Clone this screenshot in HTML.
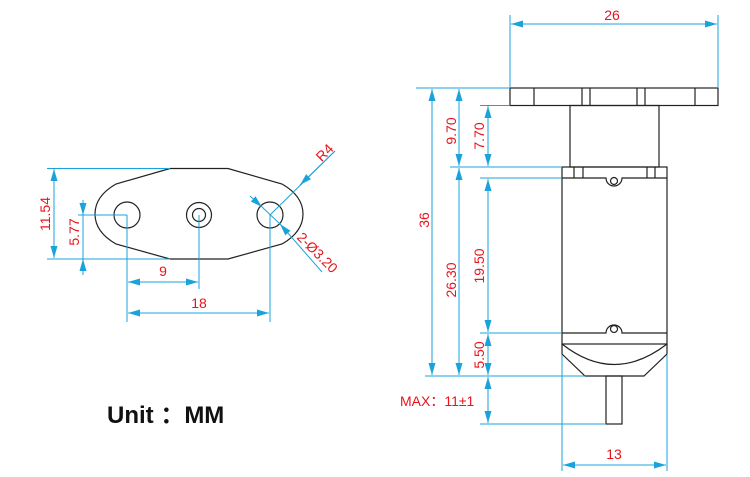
<!DOCTYPE html>
<html><head><meta charset="utf-8"><style>
html,body{margin:0;padding:0;background:#fff;}
svg{display:block;}
text{font-family:"Liberation Sans","Noto Sans CJK SC",sans-serif;fill:#e8141c;font-size:14px;}
.d{stroke:#1aa3db;stroke-width:1;fill:none;}
.k{stroke:#222;stroke-width:1.2;fill:none;}
</style></head><body>
<svg width="750" height="477" viewBox="0 0 750 477" xmlns="http://www.w3.org/2000/svg">
<defs>
<marker id="a" viewBox="0 0 12 7" refX="12" refY="3.5" markerWidth="12" markerHeight="7" markerUnits="userSpaceOnUse" orient="auto-start-reverse"><path d="M0,0L12,3.5L0,7z" fill="#1aa3db"/></marker>
</defs>
<path class="k" stroke-width="2" d="M170,168.5 L228,168.5 L282,184 Q303,196 303,214 Q303,232 282,244 L228,259 L170,259 L116,244 Q95,232 95,214 Q95,196 116,184 Z"/>
<circle class="k" cx="127" cy="215" r="13"/>
<circle class="k" cx="199" cy="215" r="12.5" stroke-width="2"/>
<circle class="k" cx="199" cy="215" r="6.5" stroke-width="2"/>
<circle class="k" cx="270" cy="215" r="13"/>
<line class="d" x1="47" y1="168.5" x2="170" y2="168.5"/>
<line class="d" x1="47" y1="259" x2="170" y2="259"/>
<line class="d" x1="54" y1="169" x2="54" y2="258" marker-start="url(#a)" marker-end="url(#a)"/>
<text transform="translate(50,214) rotate(-90)" text-anchor="middle">11.54</text>
<line class="d" x1="78" y1="215" x2="127" y2="215"/>
<line class="d" x1="83" y1="200" x2="83" y2="215" marker-end="url(#a)"/>
<line class="d" x1="83" y1="275" x2="83" y2="259" marker-end="url(#a)"/>
<line class="d" x1="83" y1="215" x2="83" y2="259"/>
<text transform="translate(79,232) rotate(-90)" text-anchor="middle">5.77</text>
<line class="d" x1="127" y1="215" x2="127" y2="322"/>
<line class="d" x1="199" y1="215" x2="199" y2="289"/>
<line class="d" x1="270" y1="215" x2="270" y2="322"/>
<line class="d" x1="128" y1="282" x2="198" y2="282" marker-start="url(#a)" marker-end="url(#a)"/>
<text x="163" y="276" text-anchor="middle">9</text>
<line class="d" x1="128" y1="313" x2="269" y2="313" marker-start="url(#a)" marker-end="url(#a)"/>
<text x="199" y="308" text-anchor="middle">18</text>
<line class="d" x1="335" y1="151" x2="270" y2="215"/>
<line class="d" x1="335" y1="151" x2="300" y2="185" marker-end="url(#a)"/>
<text transform="translate(328,156) rotate(-45)" text-anchor="middle">R4</text>
<line class="d" x1="250" y1="196" x2="262" y2="207" marker-end="url(#a)"/>
<line class="d" x1="322" y1="272" x2="280" y2="224" marker-end="url(#a)"/>
<line class="d" x1="262" y1="207" x2="280" y2="224"/>
<text transform="translate(314,256) rotate(45)" text-anchor="middle">2-Ø3.20</text>
<text x="107" y="423" style="fill:#111;font-size:24px;font-weight:bold;">Unit ：MM</text>

<rect class="k" x="510" y="88" width="208" height="17.5"/>
<g class="k"><line x1="534" y1="88" x2="534" y2="105.5"/><line x1="582" y1="88" x2="582" y2="105.5"/><line x1="590" y1="88" x2="590" y2="105.5"/><line x1="637" y1="88" x2="637" y2="105.5"/><line x1="645" y1="88" x2="645" y2="105.5"/><line x1="695" y1="88" x2="695" y2="105.5"/></g>
<rect class="k" x="570" y="105.5" width="89" height="61.5"/>
<rect class="k" x="562" y="167" width="105" height="177"/>
<g class="k"><line x1="574" y1="167" x2="574" y2="178"/><line x1="583" y1="167" x2="583" y2="178"/><line x1="647" y1="167" x2="647" y2="178"/><line x1="655" y1="167" x2="655" y2="178"/></g>
<path class="k" d="M562,178 L606,178 A8,8 0 0 0 622,178 L667,178"/>
<circle class="k" cx="614" cy="181" r="3.5"/>
<path class="k" d="M562,333 L606,333 A8,8 0 0 1 622,333 L667,333"/>
<circle class="k" cx="614" cy="329" r="3.5"/>
<path class="k" d="M562,344 L562,354 L585,376 L644,376 L667,354 L667,344"/>
<path class="k" d="M562,344 Q614,385 667,344"/>
<rect class="k" x="606" y="376" width="16" height="48"/>
<line class="d" x1="510" y1="15" x2="510" y2="88"/>
<line class="d" x1="718" y1="15" x2="718" y2="88"/>
<line class="d" x1="511" y1="24" x2="717" y2="24" marker-start="url(#a)" marker-end="url(#a)"/>
<text x="612" y="20" text-anchor="middle">26</text>
<line class="d" x1="416" y1="88" x2="510" y2="88"/>
<line class="d" x1="480" y1="105.5" x2="510" y2="105.5"/>
<line class="d" x1="450" y1="167" x2="562" y2="167"/>
<line class="d" x1="480" y1="178" x2="562" y2="178"/>
<line class="d" x1="480" y1="333" x2="562" y2="333"/>
<line class="d" x1="425" y1="376" x2="585" y2="376"/>
<line class="d" x1="480" y1="424" x2="606" y2="424"/>
<line class="d" x1="562" y1="355" x2="562" y2="471"/>
<line class="d" x1="667" y1="355" x2="667" y2="471"/>
<line class="d" x1="563" y1="465" x2="666" y2="465" marker-start="url(#a)" marker-end="url(#a)"/>
<text x="614" y="459" text-anchor="middle">13</text>
<line class="d" x1="432" y1="89" x2="432" y2="375" marker-start="url(#a)" marker-end="url(#a)"/>
<text transform="translate(429,220) rotate(-90)" text-anchor="middle">36</text>
<line class="d" x1="459" y1="89" x2="459" y2="166" marker-start="url(#a)" marker-end="url(#a)"/>
<text transform="translate(456,131) rotate(-90)" text-anchor="middle">9.70</text>
<line class="d" x1="459" y1="168" x2="459" y2="375" marker-start="url(#a)" marker-end="url(#a)"/>
<text transform="translate(456,280) rotate(-90)" text-anchor="middle">26.30</text>
<line class="d" x1="488" y1="106" x2="488" y2="166" marker-start="url(#a)" marker-end="url(#a)"/>
<text transform="translate(484,136) rotate(-90)" text-anchor="middle">7.70</text>
<line class="d" x1="488" y1="179" x2="488" y2="332" marker-start="url(#a)" marker-end="url(#a)"/>
<text transform="translate(484,266) rotate(-90)" text-anchor="middle">19.50</text>
<line class="d" x1="488" y1="334" x2="488" y2="375" marker-start="url(#a)" marker-end="url(#a)"/>
<text transform="translate(484,355) rotate(-90)" text-anchor="middle">5.50</text>
<line class="d" x1="488" y1="377" x2="488" y2="423" marker-start="url(#a)" marker-end="url(#a)"/>
<text x="400" y="406">MAX：11±1</text>
</svg>
</body></html>
